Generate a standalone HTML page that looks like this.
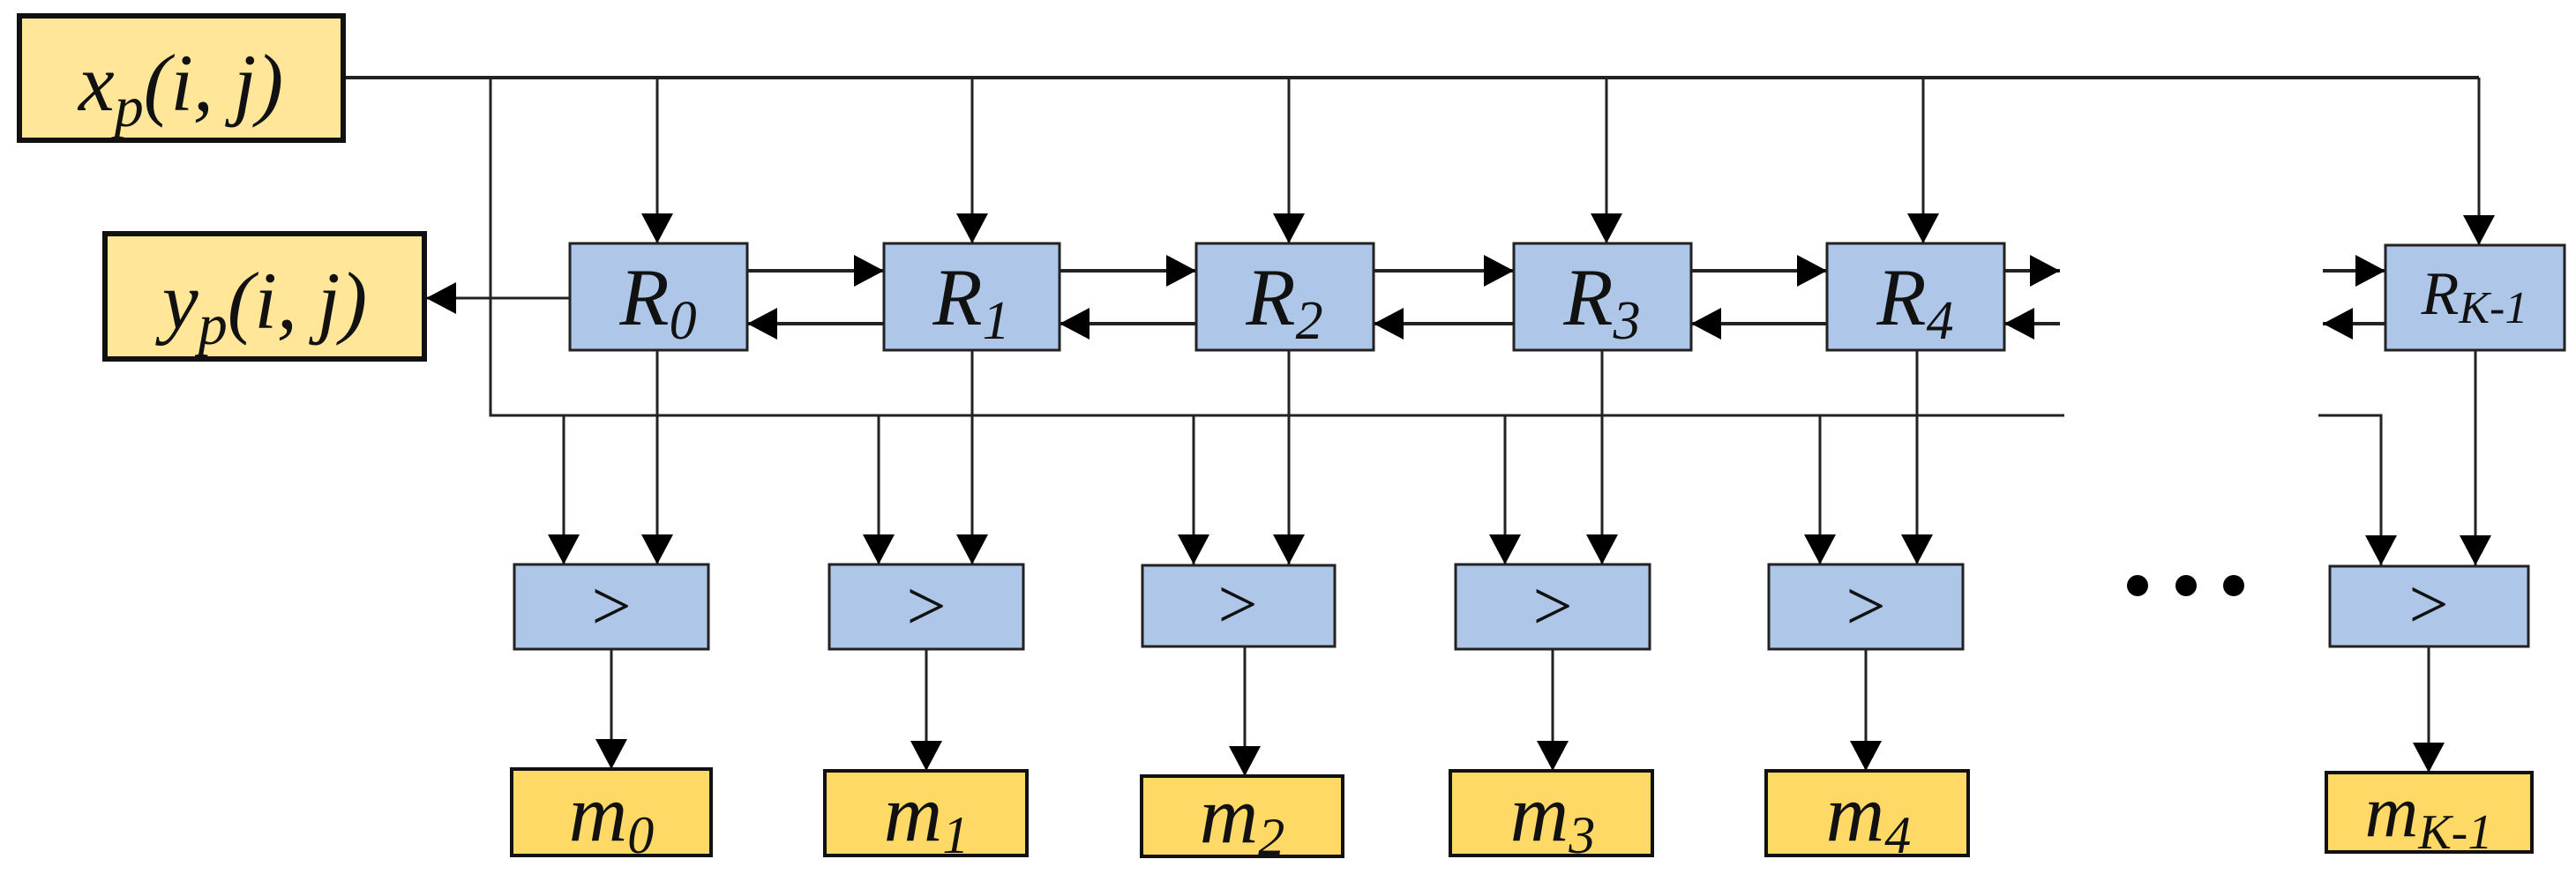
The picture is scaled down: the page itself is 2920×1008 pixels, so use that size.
<!DOCTYPE html>
<html><head><meta charset="utf-8"><style>
html,body{margin:0;padding:0;background:#fff}
svg{display:block}
text{font-family:"Liberation Serif","DejaVu Serif",serif;fill:#111}
.it{font-style:italic}
</style></head><body>
<svg width="2920" height="1008" viewBox="0 0 2920 1008" xmlns="http://www.w3.org/2000/svg" font-family="Liberation Serif, DejaVu Serif, serif">
<defs>
<marker id="a" markerUnits="userSpaceOnUse" markerWidth="40" markerHeight="40" viewBox="0 0 40 40" refX="38" refY="20" orient="auto">
<path d="M4,2 L38,20 L4,38 Z" fill="#000"/>
</marker>
</defs>
<g stroke="#222" stroke-width="3" fill="none">
<path d="M389,88 H2810" stroke-width="4"/>
<path d="M556,88 V471 H2340" />
<path d="M2628,471 H2699 V641" marker-end="url(#a)"/>
<path d="M745,88 V276" marker-end="url(#a)"/>
<path d="M1102,88 V276" marker-end="url(#a)"/>
<path d="M1461,88 V276" marker-end="url(#a)"/>
<path d="M1821,88 V276" marker-end="url(#a)"/>
<path d="M2180,88 V276" marker-end="url(#a)"/>
<path d="M2810,88 V278" marker-end="url(#a)"/>
<path d="M646,338 H483" marker-end="url(#a)"/>
<path d="M847,307 H1002" stroke-width="4" marker-end="url(#a)"/>
<path d="M1201,307 H1356" stroke-width="4" marker-end="url(#a)"/>
<path d="M1557,307 H1716" stroke-width="4" marker-end="url(#a)"/>
<path d="M1917,307 H2071" stroke-width="4" marker-end="url(#a)"/>
<path d="M2272,307 H2335" stroke-width="4" marker-end="url(#a)"/>
<path d="M2633,307 H2704" stroke-width="4" marker-end="url(#a)"/>
<path d="M1002,367 H847" stroke-width="4" marker-end="url(#a)"/>
<path d="M1356,367 H1201" stroke-width="4" marker-end="url(#a)"/>
<path d="M1716,367 H1557" stroke-width="4" marker-end="url(#a)"/>
<path d="M2071,367 H1917" stroke-width="4" marker-end="url(#a)"/>
<path d="M2335,367 H2272" stroke-width="4" marker-end="url(#a)"/>
<path d="M2704,367 H2633" stroke-width="4" marker-end="url(#a)"/>
<path d="M639,471 V640" marker-end="url(#a)"/>
<path d="M745,397 V640" marker-end="url(#a)"/>
<path d="M996,471 V640" marker-end="url(#a)"/>
<path d="M1102,397 V640" marker-end="url(#a)"/>
<path d="M1353,471 V640" marker-end="url(#a)"/>
<path d="M1461,397 V640" marker-end="url(#a)"/>
<path d="M1706,471 V640" marker-end="url(#a)"/>
<path d="M1816,397 V640" marker-end="url(#a)"/>
<path d="M2063,471 V640" marker-end="url(#a)"/>
<path d="M2173,397 V640" marker-end="url(#a)"/>
<path d="M2806,397 V641" marker-end="url(#a)"/>
<path d="M693,736 V872" marker-end="url(#a)"/>
<path d="M1050,736 V874" marker-end="url(#a)"/>
<path d="M1411,733 V880" marker-end="url(#a)"/>
<path d="M1760,736 V874" marker-end="url(#a)"/>
<path d="M2115,736 V874" marker-end="url(#a)"/>
<path d="M2753,733 V876" marker-end="url(#a)"/>
</g>
<rect x="22" y="18" width="367" height="141" fill="#ffe699" stroke="#111" stroke-width="6"/>
<rect x="119" y="265" width="362" height="142" fill="#ffe699" stroke="#111" stroke-width="6"/>
<text x="205" y="125" font-size="92" text-anchor="middle" class="it">x<tspan font-size="66" dy="18">p</tspan><tspan dy="-18">(i, j)</tspan></text>
<text x="300" y="372" font-size="92" text-anchor="middle" class="it">y<tspan font-size="66" dy="18">p</tspan><tspan dy="-18">(i, j)</tspan></text>
<g fill="#aec7e8" stroke="#222" stroke-width="3">
<rect x="646" y="276" width="201" height="121"/>
<rect x="1002" y="276" width="199" height="121"/>
<rect x="1356" y="276" width="201" height="121"/>
<rect x="1716" y="276" width="201" height="121"/>
<rect x="2071" y="276" width="201" height="121"/>
<rect x="2704" y="278" width="203" height="119"/>
<rect x="583" y="640" width="220" height="96"/>
<rect x="940" y="640" width="220" height="96"/>
<rect x="1295" y="641" width="218" height="92"/>
<rect x="1650" y="640" width="220" height="96"/>
<rect x="2005" y="640" width="220" height="96"/>
<rect x="2641" y="642" width="225" height="91"/>
</g>
<g font-size="92" class="it" text-anchor="middle">
<text x="746" y="368">R<tspan font-size="62" dy="16">0</tspan></text>
<text x="1101" y="368">R<tspan font-size="62" dy="16">1</tspan></text>
<text x="1456" y="368">R<tspan font-size="62" dy="16">2</tspan></text>
<text x="1816" y="368">R<tspan font-size="62" dy="16">3</tspan></text>
<text x="2171" y="368">R<tspan font-size="62" dy="16">4</tspan></text>
<text x="2805" y="356" font-size="70">R<tspan font-size="52" dy="10">K-1</tspan></text>
</g>
<g font-size="80" fill="#223" text-anchor="middle">
<text x="693" y="714">&gt;</text>
<text x="1050" y="714">&gt;</text>
<text x="1403" y="712">&gt;</text>
<text x="1760" y="714">&gt;</text>
<text x="2115" y="714">&gt;</text>
<text x="2753" y="712">&gt;</text>
</g>
<g fill="#ffd966" stroke="#111" stroke-width="4">
<rect x="580" y="872" width="226" height="98"/>
<rect x="935" y="874" width="229" height="96"/>
<rect x="1294" y="880" width="228" height="91"/>
<rect x="1644" y="874" width="229" height="96"/>
<rect x="2002" y="874" width="229" height="96"/>
<rect x="2637" y="876" width="233" height="90"/>
</g>
<g font-size="92" class="it" text-anchor="middle">
<text x="693" y="953">m<tspan font-size="60" dy="14">0</tspan></text>
<text x="1050" y="953">m<tspan font-size="60" dy="14">1</tspan></text>
<text x="1408" y="955">m<tspan font-size="60" dy="14">2</tspan></text>
<text x="1760" y="953">m<tspan font-size="60" dy="14">3</tspan></text>
<text x="2118" y="953">m<tspan font-size="60" dy="14">4</tspan></text>
<text x="2753" y="948" font-size="84">m<tspan font-size="56" dy="14">K-1</tspan></text>
</g>
<g fill="#000">
<circle cx="2423" cy="664" r="12"/>
<circle cx="2478" cy="664" r="12"/>
<circle cx="2532" cy="664" r="12"/>
</g>
</svg>
</body></html>
